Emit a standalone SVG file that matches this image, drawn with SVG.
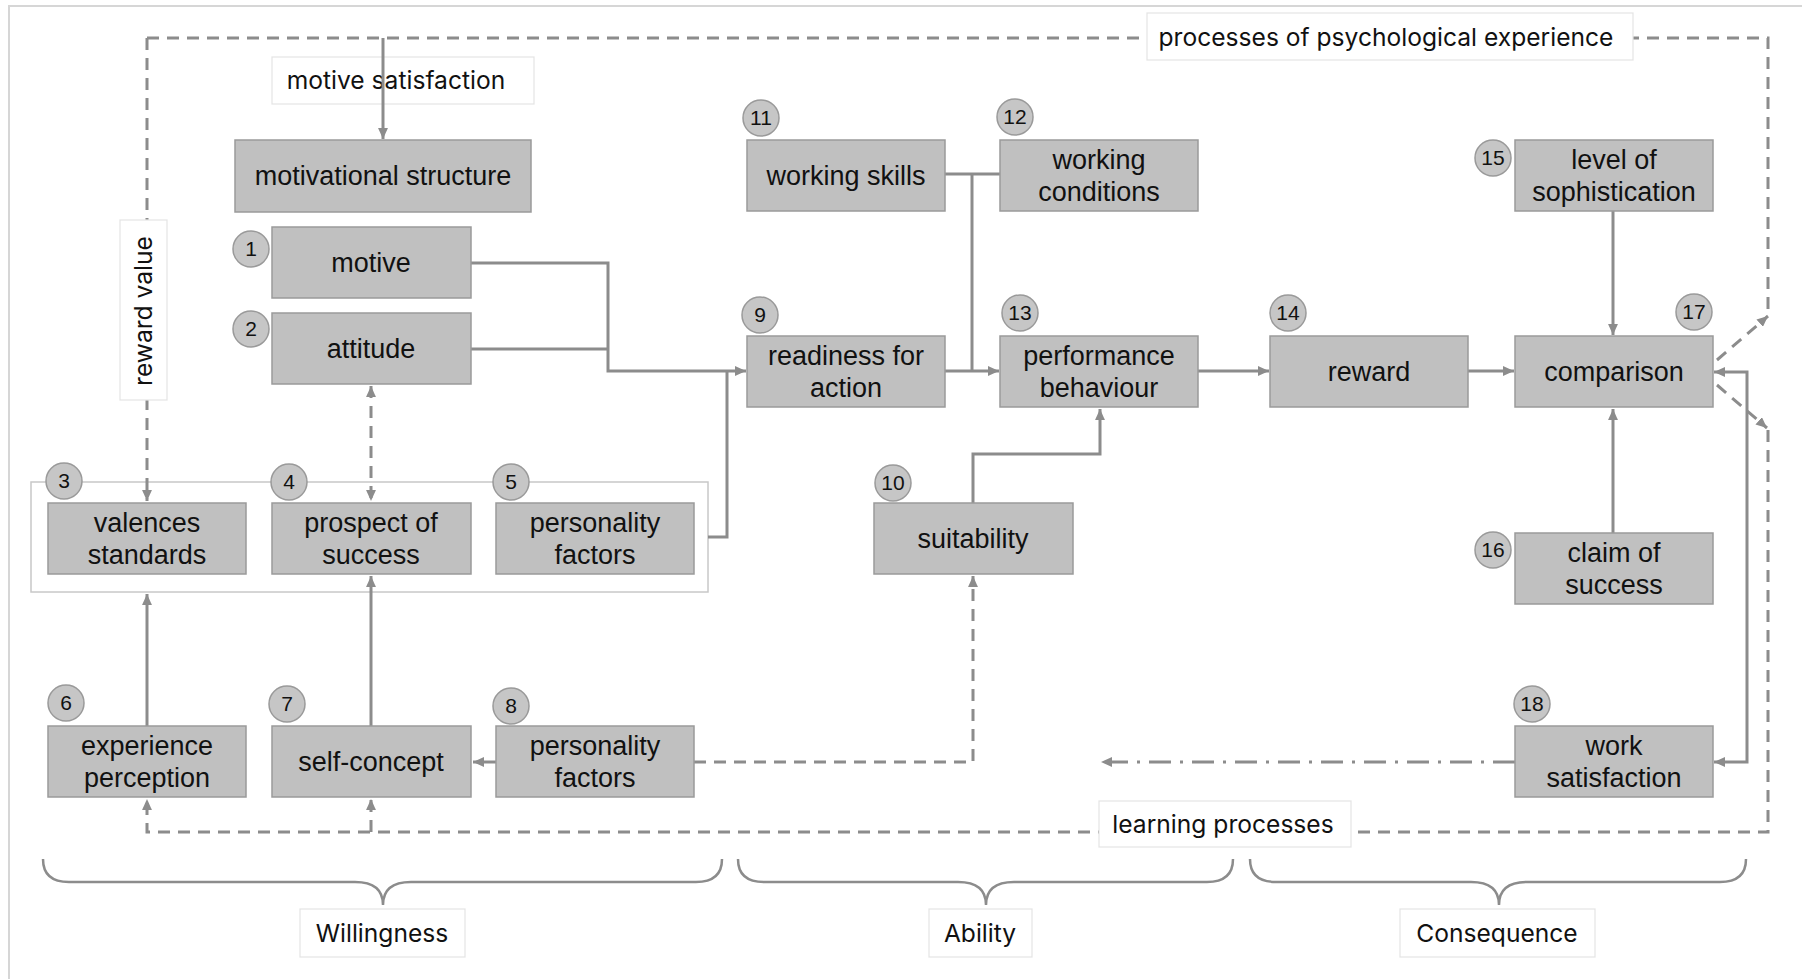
<svg xmlns="http://www.w3.org/2000/svg" width="1802" height="979" viewBox="0 0 1802 979">
  <style>
    .node rect { fill: #c0c0c0; stroke: #9a9a9a; stroke-width: 1.5; }
    .node text { font-family: "Liberation Sans", Arial, sans-serif; font-size: 27px; fill: #111; text-anchor: middle; }
    .num circle { fill: #c6c6c6; stroke: #9a9a9a; stroke-width: 1.5; }
    .num text { font-family: "Liberation Sans", Arial, sans-serif; font-size: 21px; fill: #111; text-anchor: middle; }
    .lbl rect { fill: #ffffff; stroke: #e4e4e4; stroke-width: 1.2; }
    .lbl text { font-family: Inter, "Liberation Sans", sans-serif; font-size: 24.6px; fill: #111; text-anchor: middle; }
    .solid { fill: none; stroke: #8c8c8c; stroke-width: 3; }
    .dash { fill: none; stroke: #8c8c8c; stroke-width: 3; stroke-dasharray: 12 8; }
    .dashdot { fill: none; stroke: #8c8c8c; stroke-width: 3; stroke-dasharray: 22 9 3 9; }
    .brace { fill: none; stroke: #8c8c8c; stroke-width: 2.5; }
    .frame { fill: none; stroke: #d6d6d6; stroke-width: 2; }
    .group { fill: none; stroke: #c8c8c8; stroke-width: 1.5; }
  </style>
  <defs>
    <marker id="arrow" viewBox="0 0 10 9" refX="10" refY="4.5" markerWidth="11" markerHeight="10" markerUnits="userSpaceOnUse" orient="auto-start-reverse">
      <path d="M0,0 L10,4.5 L0,9 z" fill="#8c8c8c"/>
    </marker>
  </defs>

  <rect width="1802" height="979" fill="#ffffff"/>
  <!-- outer frame -->
  <path class="frame" d="M9,979 V6 H1802"/>

  <!-- frame round nodes 3, 4, 5 -->
  <rect id="group-3-5" class="group" x="31" y="482" width="677" height="110"/>

  <!-- connectors -->
  <g id="connectors">
    <!-- dashed feedback loops -->
    <path class="dash" d="M147,38 V501" marker-end="url(#arrow)"/>
    <path class="dash" d="M147,38 H1768 V316"/>
    <path class="dash" d="M1717,360 L1768,316" marker-end="url(#arrow)"/>
    <path class="dash" d="M1717,385 L1767,428" marker-end="url(#arrow)"/>
    <path class="dash" d="M1768,430 V832 H147 V799" marker-end="url(#arrow)"/>
    <path class="dash" d="M371,832 V799" marker-end="url(#arrow)"/>
    <path class="dash" d="M371,386 V501" marker-start="url(#arrow)" marker-end="url(#arrow)"/>
    <path class="dash" d="M694,762 H973 V576" marker-end="url(#arrow)"/>
    <path class="dashdot" d="M1515,762 H1101" marker-end="url(#arrow)"/>

    <!-- solid flows -->
    <path class="solid" d="M471,263 H608 V371 H746" marker-end="url(#arrow)"/>
    <path class="solid" d="M471,349 H608"/>
    <path class="solid" d="M708,537 H727 V371"/>
    <path class="solid" d="M945,174 H1000"/>
    <path class="solid" d="M972,174 V371"/>
    <path class="solid" d="M945,371 H999" marker-end="url(#arrow)"/>
    <path class="solid" d="M973,503 V454 H1100 V409" marker-end="url(#arrow)"/>
    <path class="solid" d="M1198,371 H1269" marker-end="url(#arrow)"/>
    <path class="solid" d="M1468,371 H1514" marker-end="url(#arrow)"/>
    <path class="solid" d="M1613,211 V335" marker-end="url(#arrow)"/>
    <path class="solid" d="M1613,533 V409" marker-end="url(#arrow)"/>
    <path class="solid" d="M1714,372 H1747 V762 H1714" marker-start="url(#arrow)" marker-end="url(#arrow)"/>
    <path class="solid" d="M496,762 H473" marker-end="url(#arrow)"/>
    <path class="solid" d="M147,726 V594" marker-end="url(#arrow)"/>
    <path class="solid" d="M371,726 V576" marker-end="url(#arrow)"/>
  </g>

  <!-- labels on the loops -->
  <g id="label-motive-satisfaction" class="lbl">
    <rect x="272" y="57" width="262" height="47"/>
    <text x="396" y="89">motive satisfaction</text>
  </g>
  <path class="solid" d="M383,38 V139" marker-end="url(#arrow)"/>
  <g id="label-processes" class="lbl">
    <rect x="1147" y="13" width="486" height="47"/>
    <text x="1386" y="46">processes of psychological experience</text>
  </g>
  <g id="label-reward-value" class="lbl">
    <rect x="120" y="220" width="47" height="180"/>
    <text transform="translate(143,311) rotate(-90)" y="9">reward value</text>
  </g>
  <g id="label-learning" class="lbl">
    <rect x="1099" y="801" width="252" height="46"/>
    <text x="1223" y="833">learning processes</text>
  </g>

  <!-- nodes -->
  <g id="node-motivational-structure" class="node">
    <rect x="235" y="140" width="296" height="72"/>
    <text x="383" y="185">motivational structure</text>
  </g>
  <g id="node-1" class="node">
    <rect x="272" y="227" width="199" height="71"/>
    <text x="371" y="272">motive</text>
  </g>
  <g id="node-2" class="node">
    <rect x="272" y="313" width="199" height="71"/>
    <text x="371" y="358">attitude</text>
  </g>
  <g id="node-3" class="node">
    <rect x="48" y="503" width="198" height="71"/>
    <text x="147" y="532">valences</text>
    <text x="147" y="564">standards</text>
  </g>
  <g id="node-4" class="node">
    <rect x="272" y="503" width="199" height="71"/>
    <text x="371" y="532">prospect of</text>
    <text x="371" y="564">success</text>
  </g>
  <g id="node-5" class="node">
    <rect x="496" y="503" width="198" height="71"/>
    <text x="595" y="532">personality</text>
    <text x="595" y="564">factors</text>
  </g>
  <g id="node-6" class="node">
    <rect x="48" y="726" width="198" height="71"/>
    <text x="147" y="755">experience</text>
    <text x="147" y="787">perception</text>
  </g>
  <g id="node-7" class="node">
    <rect x="272" y="726" width="199" height="71"/>
    <text x="371" y="771">self-concept</text>
  </g>
  <g id="node-8" class="node">
    <rect x="496" y="726" width="198" height="71"/>
    <text x="595" y="755">personality</text>
    <text x="595" y="787">factors</text>
  </g>
  <g id="node-9" class="node">
    <rect x="747" y="336" width="198" height="71"/>
    <text x="846" y="365">readiness for</text>
    <text x="846" y="397">action</text>
  </g>
  <g id="node-10" class="node">
    <rect x="874" y="503" width="199" height="71"/>
    <text x="973" y="548">suitability</text>
  </g>
  <g id="node-11" class="node">
    <rect x="747" y="140" width="198" height="71"/>
    <text x="846" y="185">working skills</text>
  </g>
  <g id="node-12" class="node">
    <rect x="1000" y="140" width="198" height="71"/>
    <text x="1099" y="169">working</text>
    <text x="1099" y="201">conditions</text>
  </g>
  <g id="node-13" class="node">
    <rect x="1000" y="336" width="198" height="71"/>
    <text x="1099" y="365">performance</text>
    <text x="1099" y="397">behaviour</text>
  </g>
  <g id="node-14" class="node">
    <rect x="1270" y="336" width="198" height="71"/>
    <text x="1369" y="381">reward</text>
  </g>
  <g id="node-15" class="node">
    <rect x="1515" y="140" width="198" height="71"/>
    <text x="1614" y="169">level of</text>
    <text x="1614" y="201">sophistication</text>
  </g>
  <g id="node-16" class="node">
    <rect x="1515" y="533" width="198" height="71"/>
    <text x="1614" y="562">claim of</text>
    <text x="1614" y="594">success</text>
  </g>
  <g id="node-17" class="node">
    <rect x="1515" y="336" width="198" height="71"/>
    <text x="1614" y="381">comparison</text>
  </g>
  <g id="node-18" class="node">
    <rect x="1515" y="726" width="198" height="71"/>
    <text x="1614" y="755">work</text>
    <text x="1614" y="787">satisfaction</text>
  </g>

  <!-- number badges -->
  <g id="badges" class="num">
    <circle cx="251" cy="249" r="18"/><text x="251" y="256">1</text>
    <circle cx="251" cy="329" r="18"/><text x="251" y="336">2</text>
    <circle cx="64" cy="481" r="18"/><text x="64" y="488">3</text>
    <circle cx="289" cy="482" r="18"/><text x="289" y="489">4</text>
    <circle cx="511" cy="482" r="18"/><text x="511" y="489">5</text>
    <circle cx="66" cy="703" r="18"/><text x="66" y="710">6</text>
    <circle cx="287" cy="704" r="18"/><text x="287" y="711">7</text>
    <circle cx="511" cy="706" r="18"/><text x="511" y="713">8</text>
    <circle cx="760" cy="315" r="18"/><text x="760" y="322">9</text>
    <circle cx="893" cy="483" r="18"/><text x="893" y="490">10</text>
    <circle cx="761" cy="118" r="18"/><text x="761" y="125">11</text>
    <circle cx="1015" cy="117" r="18"/><text x="1015" y="124">12</text>
    <circle cx="1020" cy="313" r="18"/><text x="1020" y="320">13</text>
    <circle cx="1288" cy="313" r="18"/><text x="1288" y="320">14</text>
    <circle cx="1493" cy="158" r="18"/><text x="1493" y="165">15</text>
    <circle cx="1493" cy="550" r="18"/><text x="1493" y="557">16</text>
    <circle cx="1694" cy="312" r="18"/><text x="1694" y="319">17</text>
    <circle cx="1532" cy="704" r="18"/><text x="1532" y="711">18</text>
  </g>

  <!-- braces and phase names -->
  <g id="brace-willingness">
    <path class="brace" d="M43,859 Q43,882 69,882 H355 Q383,882 383,905 Q383,882 411,882 H696 Q722,882 722,859"/>
    <g class="lbl">
      <rect x="300" y="909" width="165" height="48"/>
      <text x="382" y="942">Willingness</text>
    </g>
  </g>
  <g id="brace-ability">
    <path class="brace" d="M738,859 Q738,882 764,882 H958 Q986,882 986,905 Q986,882 1014,882 H1207 Q1233,882 1233,859"/>
    <g class="lbl">
      <rect x="929" y="909" width="103" height="48"/>
      <text x="980" y="942">Ability</text>
    </g>
  </g>
  <g id="brace-consequence">
    <path class="brace" d="M1250,859 Q1250,882 1276,882 H1471 Q1499,882 1499,905 Q1499,882 1527,882 H1720 Q1746,882 1746,859"/>
    <g class="lbl">
      <rect x="1400" y="909" width="195" height="48"/>
      <text x="1497" y="942">Consequence</text>
    </g>
  </g>
</svg>
